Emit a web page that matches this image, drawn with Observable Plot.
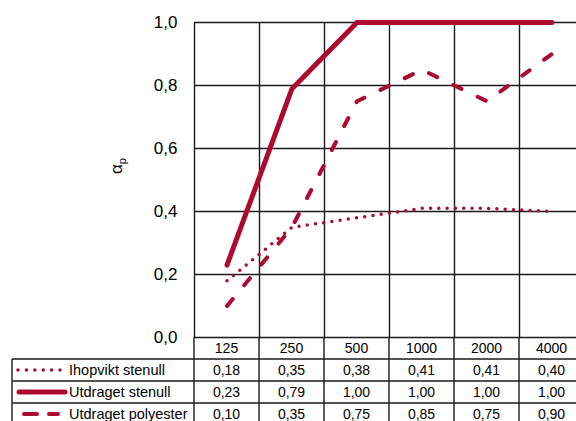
<!DOCTYPE html>
<html><head><meta charset="utf-8">
<script src="https://cdn.jsdelivr.net/npm/d3@7"></script>
<script src="https://cdn.jsdelivr.net/npm/@observablehq/plot@0.6"></script>
<style>body{margin:0;background:#fff}</style>
</head><body><div id="chart"></div>
<script>
// ---- data ----
const frequencies = ["125", "250", "500", "1000", "2000", "4000"];
const seriesNames = ["Ihopvikt stenull", "Utdraget stenull", "Utdraget polyester"];
const ihopviktStenull = [0.18, 0.35, 0.38, 0.41, 0.41, 0.40];
const utdragetStenull = [0.23, 0.79, 1.00, 1.00, 1.00, 1.00];
const utdragetPolyester = [0.10, 0.35, 0.75, 0.85, 0.75, 0.90];
const yTicks = [0, 0.2, 0.4, 0.6, 0.8, 1.0];

// ---- styles ----
const red = "#ad0a2f";
const font = "'Liberation Sans', Arial, sans-serif";
const seriesValues = [ihopviktStenull, utdragetStenull, utdragetPolyester];
const seriesStyle = [
  {strokeWidth: 3.5, strokeDasharray: "0,8.3", legendDash: "0,8.4"},
  {strokeWidth: 5, strokeDasharray: null, legendDash: null},
  {strokeWidth: 4, strokeDasharray: "9,18", legendDash: "13,12"}
];
const rows = seriesNames.map((name, k) =>
  frequencies.map((f, i) => ({series: name, i, value: seriesValues[k][i]})));
const fmt = (v, d) => v.toFixed(d).replace(".", ",");
const bounds = d3.range(frequencies.length + 1).map(i => i - 0.5);

const gridColor = "#1a1a1a";
const plot = Plot.plot({
  width: 576,
  height: 421,
  marginLeft: 194,
  marginTop: 22,
  marginRight: 0,
  marginBottom: 84,
  style: {fontFamily: font, color: "#000", background: "#fff"},
  x: {type: "linear", domain: [-0.5, frequencies.length - 0.5], range: [194, 194 + 65 * frequencies.length], axis: null},
  y: {domain: [0, 1], range: [337, 22], axis: null},
  marks: [
    Plot.gridY(yTicks, {stroke: gridColor, strokeOpacity: 1, strokeWidth: 1.4}),
    Plot.ruleX(bounds, {y1: 0, y2: 1, stroke: gridColor, strokeWidth: 1.4}),
    Plot.axisY(yTicks, {tickSize: 0, tickPadding: 17, fontSize: 17, tickFormat: d => fmt(d, 1), label: null}),
    ...rows.map((r, k) => Plot.line(r, {
      x: "i", y: "value", stroke: red,
      strokeWidth: seriesStyle[k].strokeWidth,
      strokeDasharray: seriesStyle[k].strokeDasharray,
      strokeLinecap: "round", strokeLinejoin: "round"
    }))
  ]
});
document.getElementById("chart").appendChild(plot);

// ---- table below the plot, positioned through the plot's scales ----
const xs = plot.scale("x"), ys = plot.scale("y");
const X = v => xs.apply(v);
const tableTop = ys.apply(0);
const rowH = 22;
const legendLeft = 12;
const svg = d3.select(plot);
const g = svg.append("g").attr("font-family", font).attr("font-size", 14).attr("fill", "#000");

// header row (frequencies)
g.selectAll("text.hdr").data(frequencies).join("text")
  .attr("x", (d, i) => X(i)).attr("y", tableTop + rowH / 2 + 5)
  .attr("text-anchor", "middle").text(d => d);

// value rows
seriesNames.forEach((name, k) => {
  const cy = tableTop + rowH * (k + 1) + rowH / 2;
  g.selectAll(null).data(seriesValues[k]).join("text")
    .attr("x", (d, i) => X(i)).attr("y", cy + 5)
    .attr("text-anchor", "middle").text(d => fmt(d, 2));
  // legend sample
  const s = seriesStyle[k];
  const sample = [[18, 60], [19, 65], [24, 58]][k];
  g.append("line").attr("x1", sample[0]).attr("x2", sample[1]).attr("y1", cy).attr("y2", cy)
    .attr("stroke", red).attr("stroke-width", s.strokeWidth)
    .attr("stroke-linecap", "round")
    .attr("stroke-dasharray", s.legendDash);
  g.append("text").attr("x", 69).attr("y", cy + 5).attr("font-size", 14.5)
    .attr("text-anchor", "start").text(name);
});

// table grid lines
const lines = g.append("g").attr("stroke", gridColor).attr("stroke-width", 1.4);
const bottom = tableTop + rowH * (seriesNames.length + 1) + 4;
bounds.forEach(b => lines.append("line").attr("x1", X(b)).attr("x2", X(b)).attr("y1", tableTop).attr("y2", bottom));
lines.append("line").attr("x1", legendLeft).attr("x2", legendLeft).attr("y1", tableTop + rowH).attr("y2", bottom);
d3.range(1, seriesNames.length + 1).forEach(r => {
  lines.append("line").attr("x1", legendLeft).attr("x2", X(bounds[bounds.length - 1]))
    .attr("y1", tableTop + rowH * r).attr("y2", tableTop + rowH * r);
});

// y label: alpha with subscript p
const lab = svg.append("text").attr("font-family", font).attr("font-size", 17)
  .attr("transform", "translate(122,166) rotate(-90)").attr("text-anchor", "middle");
lab.append("tspan").text("α");
lab.append("tspan").attr("font-size", 11).attr("dy", 4).text("p");
</script>
</body></html>
